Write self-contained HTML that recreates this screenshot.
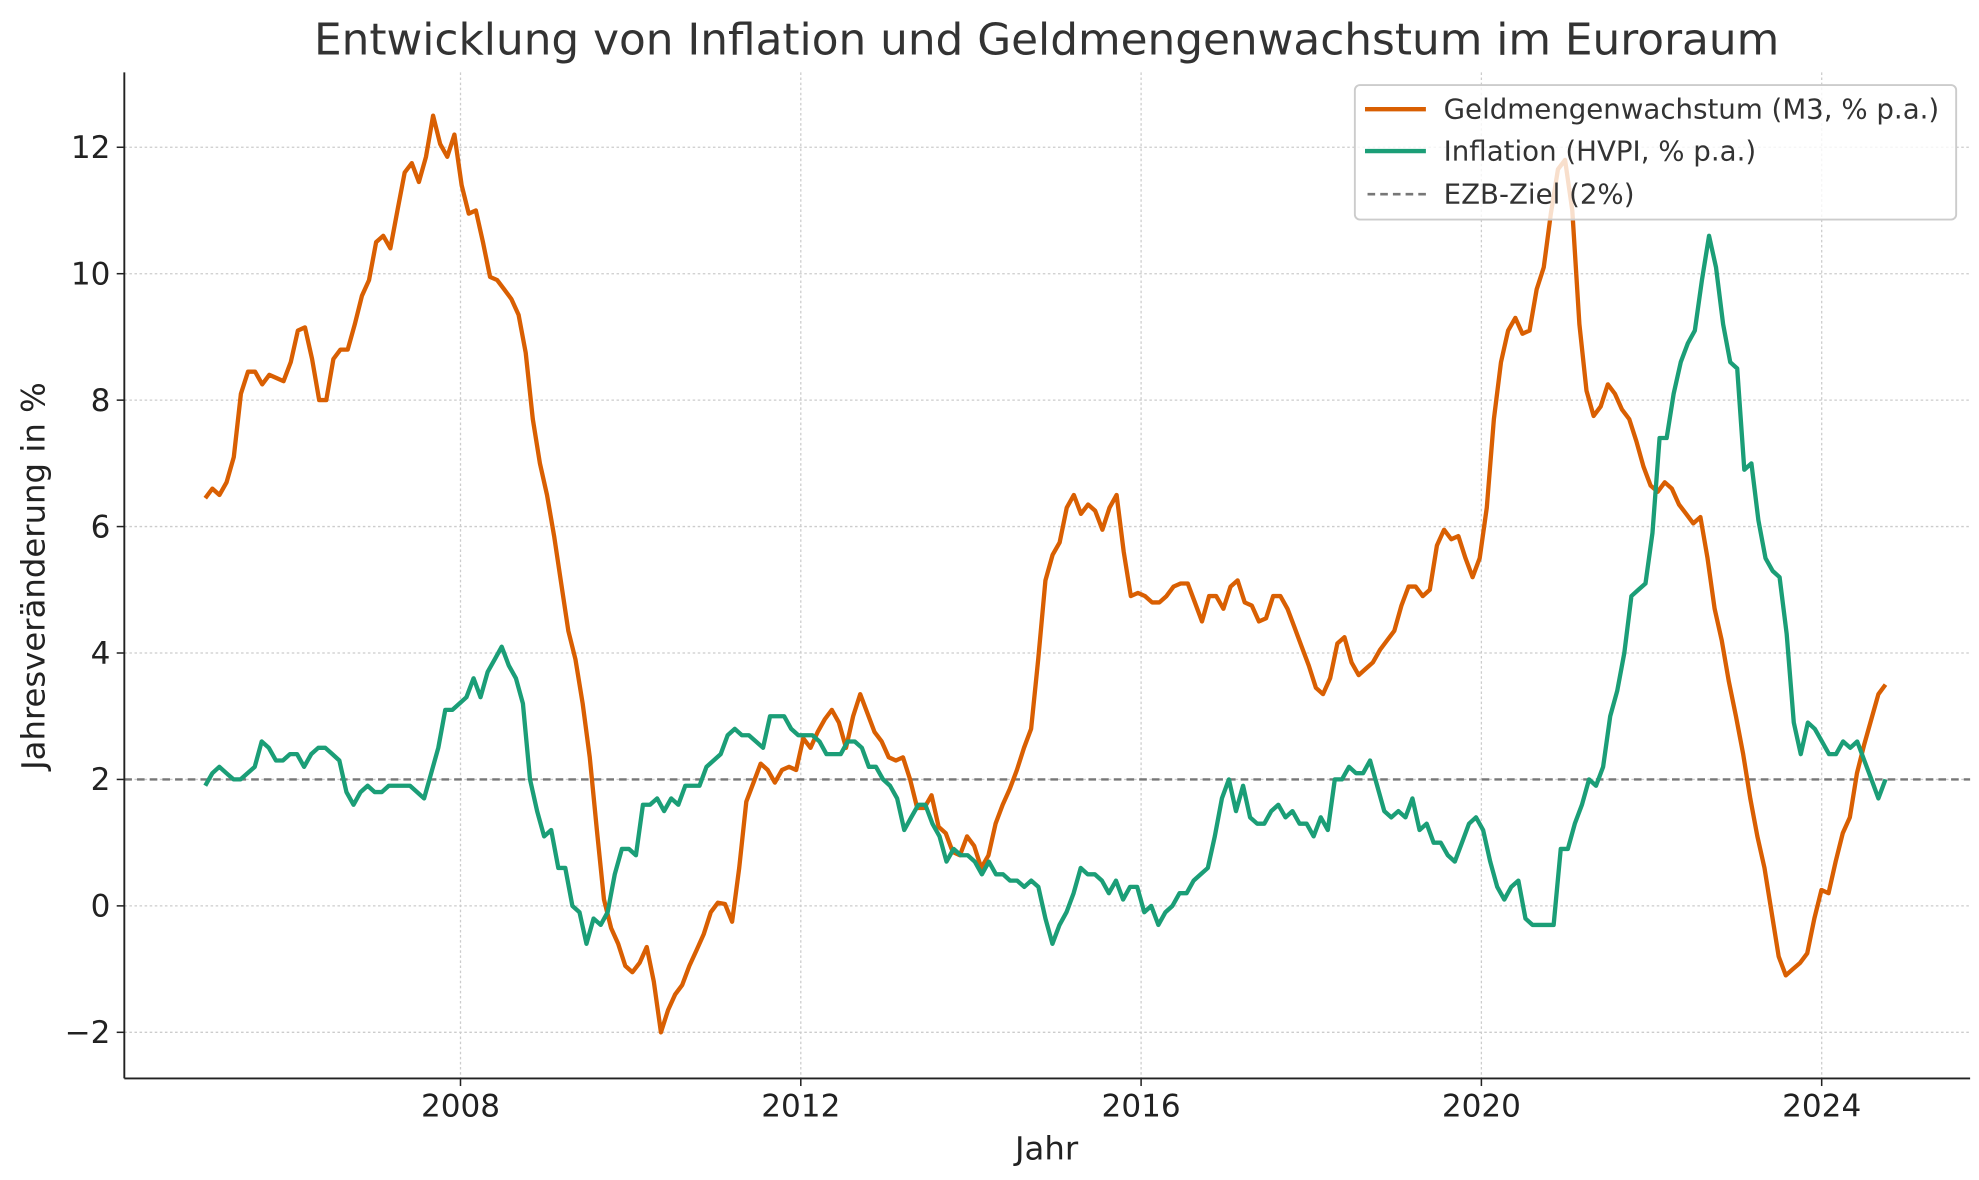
<!DOCTYPE html>
<html><head><meta charset="utf-8"><style>
html,body{margin:0;padding:0;background:#fff}
svg{display:block;font-family:"DejaVu Sans","Liberation Sans",sans-serif}
</style></head><body>
<svg id="chart" width="1979" height="1180" viewBox="0 0 1560 930">
<rect width="1560" height="930" fill="#fff"/>
<text x="825" y="43" text-anchor="middle" font-size="34.5" fill="#333">Entwicklung von Inflation und Geldmengenwachstum im Euroraum</text>
<g id="grid"></g>
<g id="plot"></g>
<g id="axes"></g>
<text x="825" y="914" text-anchor="middle" font-size="25.5" fill="#222">Jahr</text>
<text transform="translate(35,454) rotate(-90)" text-anchor="middle" font-size="25.5" fill="#222">Jahresveränderung in %</text>
<g>
<rect x="1068" y="67" width="474" height="106" rx="4" fill="#fff" fill-opacity="0.8" stroke="#ccc" stroke-width="1.5"/>
<line x1="1076" y1="86" x2="1124" y2="86" stroke="#d95f02" stroke-width="3.5"/>
<text x="1138" y="93.5" font-size="21.8" fill="#333">Geldmengenwachstum (M3, % p.a.)</text>
<line x1="1076" y1="119" x2="1124" y2="119" stroke="#1b9e77" stroke-width="3.5"/>
<text x="1138" y="126.5" font-size="21.8" fill="#333">Inflation (HVPI, % p.a.)</text>
<line x1="1078" y1="153" x2="1124" y2="153" stroke="#777" stroke-width="2" stroke-dasharray="6,4"/>
<text x="1138" y="160.5" font-size="21.8" fill="#333">EZB-Ziel (2%)</text>
</g>
</svg>
<script>
const startYear = 2005.0;
const endYear = 2024.75;
const targetValue = 2;
const xTicks = [2008, 2012, 2016, 2020, 2024];
const yTicks = [-2, 0, 2, 4, 6, 8, 10, 12];
const m3Values = [6.45,6.6,6.5,6.7,7.1,8.1,8.45,8.45,8.25,8.4,8.35,8.3,8.6,9.1,9.15,8.65,8.0,8.0,8.65,8.8,8.8,9.2,9.65,9.9,10.5,10.6,10.4,11.0,11.6,11.75,11.45,11.85,12.5,12.05,11.85,12.2,11.4,10.95,11.0,10.5,9.95,9.9,9.75,9.6,9.35,8.75,7.7,7.0,6.5,5.85,5.1,4.35,3.9,3.2,2.35,1.2,0.1,-0.35,-0.6,-0.95,-1.05,-0.9,-0.65,-1.2,-2.0,-1.65,-1.4,-1.25,-0.95,-0.7,-0.45,-0.1,0.05,0.03,-0.25,0.6,1.65,1.95,2.25,2.15,1.95,2.15,2.2,2.15,2.65,2.5,2.75,2.95,3.1,2.9,2.5,3.0,3.35,3.05,2.75,2.6,2.35,2.3,2.35,2.0,1.55,1.55,1.75,1.25,1.15,0.85,0.8,1.1,0.95,0.6,0.8,1.3,1.6,1.85,2.15,2.5,2.8,3.9,5.15,5.55,5.75,6.3,6.5,6.2,6.35,6.25,5.95,6.3,6.5,5.6,4.9,4.95,4.9,4.8,4.8,4.9,5.05,5.1,5.1,4.8,4.5,4.9,4.9,4.7,5.05,5.15,4.8,4.75,4.5,4.55,4.9,4.9,4.7,4.4,4.1,3.8,3.45,3.35,3.6,4.15,4.25,3.85,3.65,3.75,3.85,4.05,4.2,4.35,4.75,5.05,5.05,4.9,5.0,5.7,5.95,5.8,5.85,5.5,5.2,5.5,6.3,7.7,8.6,9.1,9.3,9.05,9.1,9.75,10.1,10.95,11.65,11.8,11.0,9.2,8.15,7.75,7.9,8.25,8.1,7.85,7.7,7.35,6.95,6.65,6.55,6.7,6.6,6.35,6.2,6.05,6.15,5.5,4.7,4.2,3.55,3.0,2.4,1.7,1.1,0.6,-0.1,-0.8,-1.1,-1.0,-0.9,-0.75,-0.2,0.25,0.2,0.7,1.15,1.4,2.1,2.55,2.95,3.35,3.5];
const inflationValues = [1.9,2.1,2.2,2.1,2.0,2.0,2.1,2.2,2.6,2.5,2.3,2.3,2.4,2.4,2.2,2.4,2.5,2.5,2.4,2.3,1.8,1.6,1.8,1.9,1.8,1.8,1.9,1.9,1.9,1.9,1.8,1.7,2.1,2.5,3.1,3.1,3.2,3.3,3.6,3.3,3.7,3.9,4.1,3.8,3.6,3.2,2.0,1.5,1.1,1.2,0.6,0.6,0.0,-0.1,-0.6,-0.2,-0.3,-0.1,0.5,0.9,0.9,0.8,1.6,1.6,1.7,1.5,1.7,1.6,1.9,1.9,1.9,2.2,2.3,2.4,2.7,2.8,2.7,2.7,2.6,2.5,3.0,3.0,3.0,2.8,2.7,2.7,2.7,2.6,2.4,2.4,2.4,2.6,2.6,2.5,2.2,2.2,2.0,1.9,1.7,1.2,1.4,1.6,1.6,1.3,1.1,0.7,0.9,0.8,0.8,0.7,0.5,0.7,0.5,0.5,0.4,0.4,0.3,0.4,0.3,-0.2,-0.6,-0.3,-0.1,0.2,0.6,0.5,0.5,0.4,0.2,0.4,0.1,0.3,0.3,-0.1,0.0,-0.3,-0.1,0.0,0.2,0.2,0.4,0.5,0.6,1.1,1.7,2.0,1.5,1.9,1.4,1.3,1.3,1.5,1.6,1.4,1.5,1.3,1.3,1.1,1.4,1.2,2.0,2.0,2.2,2.1,2.1,2.3,1.9,1.5,1.4,1.5,1.4,1.7,1.2,1.3,1.0,1.0,0.8,0.7,1.0,1.3,1.4,1.2,0.7,0.3,0.1,0.3,0.4,-0.2,-0.3,-0.3,-0.3,-0.3,0.9,0.9,1.3,1.6,2.0,1.9,2.2,3.0,3.4,4.0,4.9,5.0,5.1,5.9,7.4,7.4,8.1,8.6,8.9,9.1,9.9,10.6,10.1,9.2,8.6,8.5,6.9,7.0,6.1,5.5,5.3,5.2,4.3,2.9,2.4,2.9,2.8,2.6,2.4,2.4,2.6,2.5,2.6,2.3,2.0,1.7,2.0];

const NS = "http://www.w3.org/2000/svg";
const L = 98, R = 1553, T = 57, B = 850;
function xScale(yr){ return 363 + (yr - 2008) * (1436 - 363) / 16; }
function yScale(v){ return 714 - v * (714 - 116) / 12; }
function dateAt(i, n){ return startYear + i * (endYear - startYear) / (n - 1); }
function mk(tag, attrs, parent){ const e = document.createElementNS(NS, tag); for (const k in attrs) e.setAttribute(k, attrs[k]); parent.appendChild(e); return e; }

const grid = document.getElementById('grid'), plot = document.getElementById('plot'), axes = document.getElementById('axes');
xTicks.forEach(t => {
  const gx = mk('line', {x1: xScale(t), x2: xScale(t), y1: T, y2: B, stroke: '#ccc', 'stroke-width': 1, 'stroke-dasharray': '2,2'}, grid);
  
  
  const tk = mk('line', {x1: xScale(t), x2: xScale(t), y1: B, y2: B + 6, stroke: '#222', 'stroke-width': 1.2}, axes);
  
  
  const lb = mk('text', {x: xScale(t), y: B + 30, 'text-anchor': 'middle', 'font-size': 24.5, fill: '#222'}, axes);
  lb.textContent = t;
  
  
});
yTicks.forEach(t => {
  const gy = mk('line', {x1: L, x2: R, y1: yScale(t), y2: yScale(t), stroke: '#ccc', 'stroke-width': 1, 'stroke-dasharray': '2,2'}, grid);
  
  
  const tk = mk('line', {x1: L - 6, x2: L, y1: yScale(t), y2: yScale(t), stroke: '#222', 'stroke-width': 1.2}, axes);
  
  
  const lb = mk('text', {x: L - 11, y: yScale(t) + 8.5, 'text-anchor': 'end', 'font-size': 24.5, fill: '#222'}, axes);
  lb.textContent = t < 0 ? '\u2212' + Math.abs(t) : t;
  
  
});
const tl = mk('line', {x1: L, x2: R, y1: yScale(targetValue), y2: yScale(targetValue), stroke: '#777', 'stroke-width': 1.8, 'stroke-dasharray': '6,4'}, plot);


function series(vals, color, name){
  const pts = vals.map((v, i) => xScale(dateAt(i, vals.length)).toFixed(1) + ',' + yScale(v).toFixed(1)).join(' ');
  const p = mk('polyline', {points: pts, fill: 'none', stroke: color, 'stroke-width': 3.4, 'stroke-linejoin': 'round'}, plot);
  
  
}
series(m3Values, '#d95f02', 'm3-growth-line');
series(inflationValues, '#1b9e77', 'inflation-line');
const ax1 = mk('line', {x1: L, x2: L, y1: T, y2: B, stroke: '#222', 'stroke-width': 1.5}, axes);


const ax2 = mk('line', {x1: L, x2: R, y1: B, y2: B, stroke: '#222', 'stroke-width': 1.5}, axes);


</script>
</body></html>
